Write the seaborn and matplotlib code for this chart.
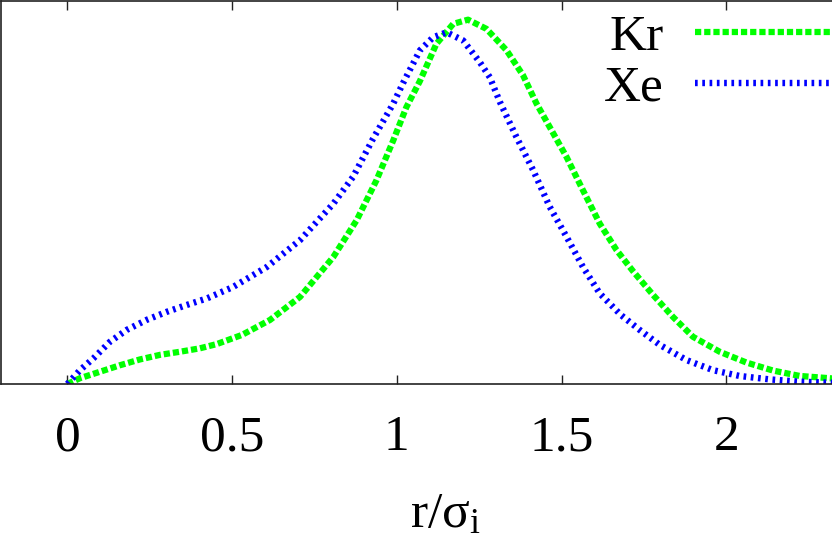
import matplotlib
matplotlib.use("Agg")
import matplotlib.pyplot as plt
import seaborn as sns
import pandas as pd

# ── Data ─────────────────────────────────────────────────────────────────────
kr_x = [0.0, 0.038, 0.099, 0.16, 0.22, 0.281, 0.341, 0.402, 0.453, 0.53,
        0.615, 0.706, 0.807, 0.878, 0.938, 0.989, 1.029, 1.07, 1.12, 1.171,
        1.216, 1.272, 1.333, 1.383, 1.424, 1.464, 1.515, 1.565, 1.616, 1.667,
        1.717, 1.778, 1.838, 1.899, 1.98, 2.061, 2.142, 2.223, 2.33]
kr_y = [0.0, 0.015, 0.032, 0.049, 0.064, 0.076, 0.084, 0.093, 0.104, 0.128,
        0.167, 0.227, 0.331, 0.427, 0.531, 0.635, 0.722, 0.79, 0.887, 0.939,
        0.95, 0.926, 0.87, 0.805, 0.731, 0.67, 0.592, 0.505, 0.418, 0.349,
        0.294, 0.232, 0.175, 0.123, 0.084, 0.056, 0.035, 0.021, 0.014]

xe_x = [0.0, 0.038, 0.079, 0.129, 0.18, 0.24, 0.301, 0.362, 0.423, 0.503,
        0.605, 0.706, 0.807, 0.867, 0.928, 0.989, 1.019, 1.07, 1.11, 1.151,
        1.201, 1.252, 1.282, 1.313, 1.363, 1.414, 1.464, 1.515, 1.565, 1.616,
        1.68, 1.737, 1.798, 1.879, 1.96, 2.04, 2.132, 2.223, 2.33]
xe_y = [0.0, 0.036, 0.067, 0.11, 0.141, 0.167, 0.188, 0.206, 0.223, 0.253,
        0.305, 0.375, 0.47, 0.54, 0.64, 0.731, 0.785, 0.87, 0.904, 0.917,
        0.896, 0.839, 0.80, 0.735, 0.644, 0.557, 0.462, 0.384, 0.305, 0.236,
        0.18, 0.141, 0.102, 0.0625, 0.036, 0.021, 0.012, 0.006, 0.003]

x_ticks = [0, 0.5, 1, 1.5, 2]
x_tick_labels = ["0", "0.5", "1", "1.5", "2"]

# ── Style ────────────────────────────────────────────────────────────────────
sns.set_theme(style="white")
plt.rcParams["font.family"] = ["Liberation Serif", "DejaVu Serif"]
plt.rcParams["mathtext.fontset"] = "custom"
plt.rcParams["mathtext.rm"] = "Liberation Serif"
plt.rcParams["mathtext.it"] = "Liberation Serif:italic"

FS = 37

fig = plt.figure(figsize=(8.32, 5.4), dpi=100)
ax = fig.add_axes([1 / 832, 156 / 540, 831 / 832, 383.5 / 540])

df_kr = pd.DataFrame({"r": kr_x, "g": kr_y})
df_xe = pd.DataFrame({"r": xe_x, "g": xe_y})

sns.lineplot(data=df_kr, x="r", y="g", ax=ax, color="#00ff00", linewidth=4.5,
             linestyle=(0, (1.0, 0.47)), sort=False, estimator=None, label="Kr")
sns.lineplot(data=df_xe, x="r", y="g", ax=ax, color="#0000ff", linewidth=4.6,
             linestyle=(0, (0.42, 0.72)), sort=False, estimator=None, label="Xe")
for ln in ax.lines:
    ln.set_dash_capstyle("butt")

ax.set_xlim(-0.2015, 2.3208)
ax.set_ylim(0, 1)
ax.set_xticks(x_ticks)
ax.set_xticklabels(x_tick_labels)
ax.set_yticks([])
ax.tick_params(axis="x", direction="in", length=6.5, width=1.0, color="#222222",
               labelcolor="black", top=True, bottom=True, labelsize=FS, pad=22)

for side in ["left", "bottom", "top"]:
    ax.spines[side].set_color("#222222")
    ax.spines[side].set_linewidth(1.2)
ax.spines["right"].set_visible(False)

ax.set_xlabel(r"r/σ$_{\rm i}$", fontsize=FS, color="black")
ax.set_ylabel("")
ax.xaxis.set_label_coords(0.535, -0.28)

leg = ax.legend(loc="upper right", bbox_to_anchor=(1.027, 0.977), frameon=False,
                markerfirst=False, fontsize=FS, handlelength=3.0,
                handletextpad=0.62, labelspacing=0.06, borderaxespad=0.0,
                borderpad=0.1)
for t in leg.get_texts():
    t.set_color("black")

fig.savefig("out.png", dpi=100)
